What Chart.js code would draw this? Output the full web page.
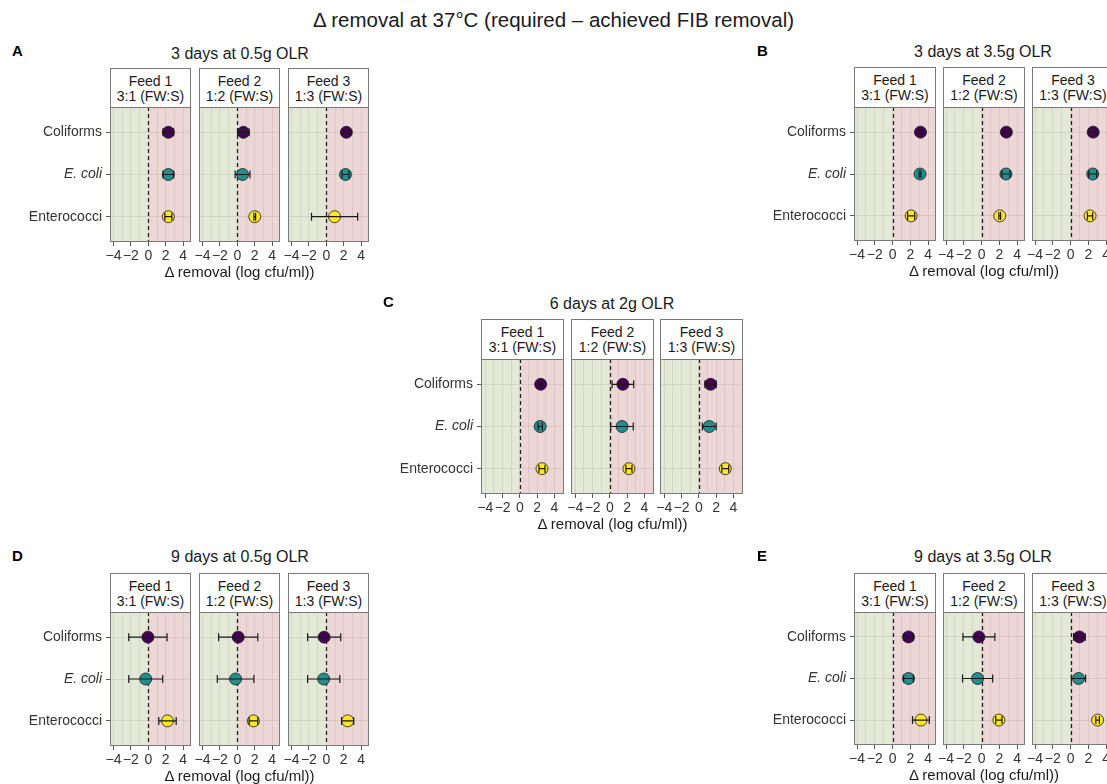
<!DOCTYPE html>
<html>
<head>
<meta charset="utf-8">
<script src="https://cdn.jsdelivr.net/npm/chart.js@4.4.1/dist/chart.umd.min.js"></script>
<style>
  body { margin: 0; width: 1107px; height: 784px; overflow: hidden; background: #fff; position: relative;
         font-family: "Liberation Sans", Arial, sans-serif; }
  .abs { position: absolute; white-space: nowrap; }
  .title { left: 0; width: 1107px; top: 8px; text-align: center; font-size: 20.5px; line-height: 24px; color: #1a1a1a; }
  .tag { font-weight: bold; font-size: 15px; line-height: 18px; color: #000; }
  .sub { width: 300px; text-align: center; font-size: 16px; line-height: 20px; color: #1a1a1a; }
  .xt { width: 300px; text-align: center; font-size: 15px; line-height: 18px; color: #1a1a1a; }
  .strip { box-sizing: border-box; border: 1px solid #7a7a7a; background: #fff; text-align: center;
           font-size: 14px; line-height: 15px; color: #1a1a1a; padding-top: 5px; }
  canvas { position: absolute; }
</style>
</head>
<body>
<div class="abs title">Δ removal at 37°C (required – achieved FIB removal)</div>
<script>
const FONT = "'Liberation Sans', Arial, sans-serif";

const categories = ["Coliforms", "E. coli", "Enterococci"];
const feedNames = ["Feed 1", "Feed 2", "Feed 3"];
const feedRatios = ["3:1 (FW:S)", "1:2 (FW:S)", "1:3 (FW:S)"];
const xTickValues = [-4, -3, -2, -1, 0, 1, 2, 3, 4];
const xAxisTitle = "Δ removal (log cfu/ml))";
const pointColors = ["#440154", "#21908C", "#FDE725"];

// mean delta removal per feed: [Coliforms, E. coli, Enterococci]
const meanA = [[2.3, 2.3, 2.3], [0.7, 0.6, 2.0], [2.3, 2.2, 0.95]];
const errA  = [[0.6, 0.6, 0.4], [0.65, 0.85, 0.1], [0.4, 0.4, 2.65]];
const meanB = [[3.15, 3.1, 2.1], [2.8, 2.75, 2.05], [2.55, 2.5, 2.2]];
const errB  = [[0.1, 0.1, 0.4], [0.4, 0.45, 0.1], [0.45, 0.45, 0.3]];
const meanC = [[2.4, 2.35, 2.55], [1.5, 1.4, 2.2], [1.35, 1.2, 3.05]];
const errC  = [[0.15, 0.25, 0.35], [1.25, 1.3, 0.35], [0.65, 0.8, 0.4]];
const meanD = [[-0.05, -0.3, 2.2], [0.1, -0.2, 1.85], [-0.25, -0.3, 2.45]];
const errD  = [[2.2, 1.95, 1.0], [2.25, 2.1, 0.5], [1.9, 1.85, 0.7]];
const meanE = [[1.8, 1.8, 3.2], [-0.3, -0.45, 1.95], [1.0, 0.9, 3.05]];
const errE  = [[0.55, 0.55, 0.95], [1.8, 1.7, 0.35], [0.65, 0.8, 0.2]];

const panels = [
  { tag: "A", title: "3 days at 0.5g OLR", mean: meanA, err: errA, xMin: -4.4, xMax: 4.9 },
  { tag: "B", title: "3 days at 3.5g OLR", mean: meanB, err: errB, xMin: -4.35, xMax: 4.9 },
  { tag: "C", title: "6 days at 2g OLR",   mean: meanC, err: errC, xMin: -4.5, xMax: 5.1 },
  { tag: "D", title: "9 days at 0.5g OLR", mean: meanD, err: errD, xMin: -4.4, xMax: 4.9 },
  { tag: "E", title: "9 days at 3.5g OLR", mean: meanE, err: errE, xMin: -4.35, xMax: 4.9 }
];

// where each panel sits on the page (px)
const layout = {
  A: { left: 110, facetW: 81, step: 89.2, stripTop: 68,  plotTop: 107, plotH: 135, subTop: 44,  subCx: 240, tagX: 12,  tagTop: 42 },
  B: { left: 854, facetW: 82, step: 89,   stripTop: 67,  plotTop: 107, plotH: 134, subTop: 42,  subCx: 983, tagX: 757, tagTop: 42 },
  C: { left: 481, facetW: 83, step: 89.5, stripTop: 319, plotTop: 359, plotH: 135, subTop: 294, subCx: 612, tagX: 383, tagTop: 293 },
  D: { left: 110, facetW: 81, step: 89.2, stripTop: 573, plotTop: 612, plotH: 134, subTop: 547, subCx: 240, tagX: 12,  tagTop: 547 },
  E: { left: 854, facetW: 82, step: 89,   stripTop: 573, plotTop: 612, plotH: 133, subTop: 547, subCx: 983, tagX: 757, tagTop: 547 }
};

const facetDecor = {
  id: "facetDecor",
  beforeDraw(chart) {
    const { ctx, chartArea: a, scales: { x } } = chart;
    const x0 = x.getPixelForValue(0);
    ctx.save();
    ctx.fillStyle = "#e3e9d6";
    ctx.fillRect(a.left, a.top, x0 - a.left, a.bottom - a.top);
    ctx.fillStyle = "#edd6d6";
    ctx.fillRect(x0, a.top, a.right - x0, a.bottom - a.top);
    ctx.restore();
  },
  beforeDatasetsDraw(chart) {
    const { ctx, chartArea: a, scales: { x } } = chart;
    const x0 = Math.round(x.getPixelForValue(0)) + 0.5;
    ctx.save();
    ctx.strokeStyle = "#222";
    ctx.lineWidth = 1.3;
    ctx.setLineDash([4, 3]);
    ctx.beginPath();
    ctx.moveTo(x0, a.top);
    ctx.lineTo(x0, a.bottom);
    ctx.stroke();
    ctx.restore();
  },
  afterDatasetsDraw(chart, args, opts) {
    const { ctx, scales: { x, y } } = chart;
    const pts = chart.data.datasets[0].data;
    ctx.save();
    ctx.strokeStyle = "#1a1a1a";
    ctx.lineWidth = 1.2;
    pts.forEach((p, i) => {
      const e = opts.err[i];
      const x1 = x.getPixelForValue(p.x - e), x2 = x.getPixelForValue(p.x + e);
      const py = y.getPixelForValue(p.y);
      ctx.beginPath();
      ctx.moveTo(x1, py); ctx.lineTo(x2, py);
      ctx.moveTo(x1, py - 4); ctx.lineTo(x1, py + 4);
      ctx.moveTo(x2, py - 4); ctx.lineTo(x2, py + 4);
      ctx.stroke();
    });
    ctx.restore();
  },
  afterDraw(chart) {
    const { ctx, chartArea: a } = chart;
    ctx.save();
    ctx.strokeStyle = "#7a7a7a";
    ctx.lineWidth = 1;
    ctx.strokeRect(Math.round(a.left) + 0.5, Math.round(a.top) + 0.5, Math.round(a.right - a.left) - 1, Math.round(a.bottom - a.top) - 1);
    ctx.restore();
  }
};

function addDiv(cls, text, style) {
  const d = document.createElement("div");
  d.className = "abs " + cls;
  d.innerHTML = text;
  Object.assign(d.style, style);
  document.body.appendChild(d);
  return d;
}

function facetChart(p, L, f) {
  const first = f === 0;
  const yW = first ? 110 : 0;
  const padL = first ? 0 : 14, padR = 14;
  const axisH = 30;
  const fx = Math.round(L.left + f * L.step);

  addDiv("strip", feedNames[f] + "<br>" + feedRatios[f], {
    left: fx + "px", top: L.stripTop + "px", width: L.facetW + "px", height: (L.plotTop - L.stripTop + 1) + "px"
  });

  const cv = document.createElement("canvas");
  cv.width = padL + yW + L.facetW + padR;
  cv.height = L.plotH + axisH;
  cv.style.left = (fx - yW - padL) + "px";
  cv.style.top = L.plotTop + "px";
  document.body.appendChild(cv);

  new Chart(cv, {
    type: "scatter",
    data: {
      datasets: [{
        data: p.mean[f].map((v, i) => ({ x: v, y: i + 1 })),
        pointBackgroundColor: pointColors,
        pointBorderColor: "#1a1a1a",
        pointBorderWidth: 0.8,
        pointRadius: 6,
        pointHoverRadius: 6
      }]
    },
    options: {
      responsive: false,
      animation: false,
      events: [],
      layout: { autoPadding: false, padding: { left: padL, right: padR, top: 0, bottom: 0 } },
      plugins: { legend: { display: false }, tooltip: { enabled: false }, facetDecor: { err: p.err[f] } },
      scales: {
        x: {
          type: "linear", min: p.xMin, max: p.xMax,
          afterBuildTicks: s => { s.ticks = xTickValues.map(v => ({ value: v })); },
          afterFit: s => { s.height = axisH; s.paddingLeft = 0; s.paddingRight = 0; },
          ticks: {
            autoSkip: false, maxRotation: 0, padding: 2, color: "#333",
            font: { size: 14, family: FONT },
            callback: v => v % 2 === 0 ? String(v).replace("-", "\u2212") : ""
          },
          grid: {
            color: "rgba(90,90,90,0.12)", tickLength: 4,
            tickColor: ctx => ctx.tick && ctx.tick.value % 2 === 0 ? "#555" : "rgba(0,0,0,0)"
          },
          border: { display: false }
        },
        y: {
          type: "linear", reverse: true, min: 0.4, max: 3.6,
          afterBuildTicks: s => { s.ticks = [1, 2, 3].map(v => ({ value: v })); },
          afterFit: s => { s.width = yW; s.paddingTop = 0; s.paddingBottom = 0; },
          ticks: {
            display: first, padding: 4, color: "#333",
            font: ctx => ({ size: 14, family: FONT, style: ctx.tick && ctx.tick.value === 2 ? "italic" : "normal" }),
            callback: v => categories[v - 1]
          },
          grid: { color: "rgba(90,90,90,0.12)", drawTicks: first, tickLength: 4, tickColor: "#555" },
          border: { display: false }
        }
      }
    },
    plugins: [facetDecor]
  });

  if (f === 1) {
    addDiv("xt", xAxisTitle, { left: (fx + L.facetW / 2 - 150) + "px", top: (L.plotTop + L.plotH + 21) + "px" });
  }
}

panels.forEach(p => {
  const L = layout[p.tag];
  addDiv("tag", p.tag, { left: L.tagX + "px", top: L.tagTop + "px" });
  addDiv("sub", p.title, { left: (L.subCx - 150) + "px", top: L.subTop + "px" });
  for (let f = 0; f < 3; f++) facetChart(p, L, f);
});
</script>
</body>
</html>
